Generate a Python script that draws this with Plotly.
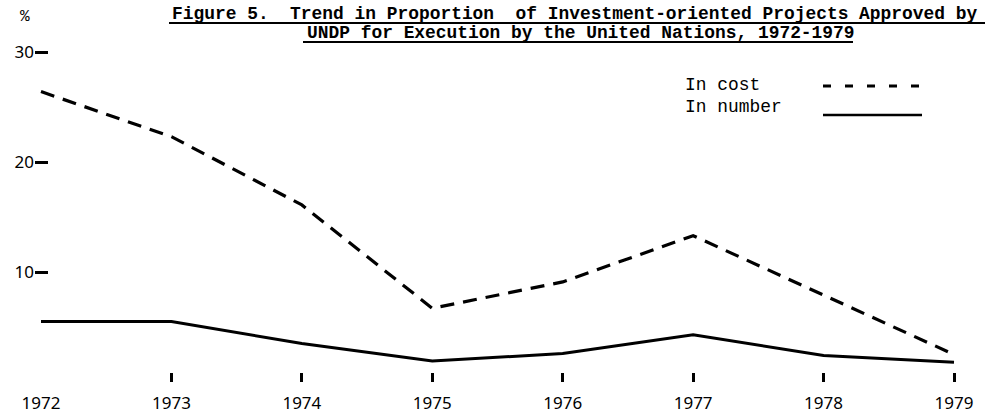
import plotly.graph_objects as go

years = [1972, 1973, 1974, 1975, 1976, 1977, 1978, 1979]
in_cost = [26.4, 22.3, 16.1, 6.7, 9.1, 13.3, 7.9, 2.5]
in_number = [5.5, 5.5, 3.5, 1.9, 2.6, 4.3, 2.4, 1.8]
tick_years = [1973, 1974, 1975, 1976, 1977, 1978, 1979]
y_ticks = [10, 20, 30]

W, H = 989, 417
# plot area in page pixels
PL, PR, PT, PB = 35, 975, 40, 382
pw, ph = PR - PL, PB - PT


def px(x):
    return (x - PL) / pw


def py(y):
    return (PB - y) / ph


mono = "Liberation Mono"
letter = "Noto Sans"

fig = go.Figure()
fig.add_trace(go.Scatter(
    x=years, y=in_cost, name="In cost", mode="lines",
    line=dict(color="black", width=3.2, dash="14px,9px"),
    cliponaxis=False,
))
fig.add_trace(go.Scatter(
    x=years, y=in_number, name="In number", mode="lines",
    line=dict(color="black", width=3),
    cliponaxis=False,
))

ann = []
ann.append(dict(text="<b>Figure 5.  Trend in Proportion  of Investment-oriented Projects Approved by</b>",
                x=px(170), y=py(14), xanchor="left", yanchor="middle"))
ann.append(dict(text="<b>UNDP for Execution by the United Nations, 1972-1979</b>",
                x=px(305), y=py(33), xanchor="left", yanchor="middle"))
ann.append(dict(text="In cost", x=px(683), y=py(85), xanchor="left", yanchor="middle"))
ann.append(dict(text="In number", x=px(683), y=py(107), xanchor="left", yanchor="middle"))
for a in ann:
    a.update(xref="paper", yref="paper", showarrow=False,
             font=dict(family=mono, size=17.9, color="black"))
ann.append(dict(text="%", x=px(25), y=py(17), xref="paper", yref="paper", showarrow=False,
                xanchor="center", yanchor="middle",
                font=dict(family=mono, size=16, color="black")))

shapes = [
    # title underlines
    dict(type="line", xref="paper", yref="paper", x0=px(169), x1=px(985), y0=py(23), y1=py(23),
         line=dict(color="black", width=2)),
    dict(type="line", xref="paper", yref="paper", x0=px(303), x1=px(853), y0=py(42), y1=py(42),
         line=dict(color="black", width=2)),
    # legend samples
    dict(type="line", xref="paper", yref="paper", x0=px(823), x1=px(922), y0=py(86), y1=py(86),
         line=dict(color="black", width=3, dash="8px,14px")),
    dict(type="line", xref="paper", yref="paper", x0=px(823), x1=px(922), y0=py(115), y1=py(115),
         line=dict(color="black", width=2.5)),
]

fig.update_layout(
    width=W, height=H,
    margin=dict(l=PL, r=W - PR, t=PT, b=H - PB, autoexpand=False),
    paper_bgcolor="white", plot_bgcolor="white",
    showlegend=False,
    annotations=ann,
    shapes=shapes,
    xaxis=dict(
        range=[1972 - 6 / 130.4, 1979 + 21 / 130.4],
        tickvals=years, ticktext=[str(y) for y in years],
        ticks="", showgrid=False, zeroline=False, showline=False,
        ticklabelstandoff=9, automargin=False,
        tickfont=dict(family=letter, size=17, color="black"),
        minor=dict(tickvals=tick_years, ticks="inside", ticklen=9, tickwidth=2.5,
                   tickcolor="black", showgrid=False),
    ),
    yaxis=dict(
        range=[0, (PB - PT) / 11],
        tickvals=y_ticks, ticks="inside", ticklen=13, tickwidth=3, tickcolor="black",
        showgrid=False, zeroline=False, showline=False, automargin=False,
        tickfont=dict(family=letter, size=17, color="black"),
    ),
)

# drop the default page margin so the figure sits at the window's top-left corner
fig.write_html("out.html", config={"displayModeBar": False},
               post_script="document.body.style.margin='0';")
